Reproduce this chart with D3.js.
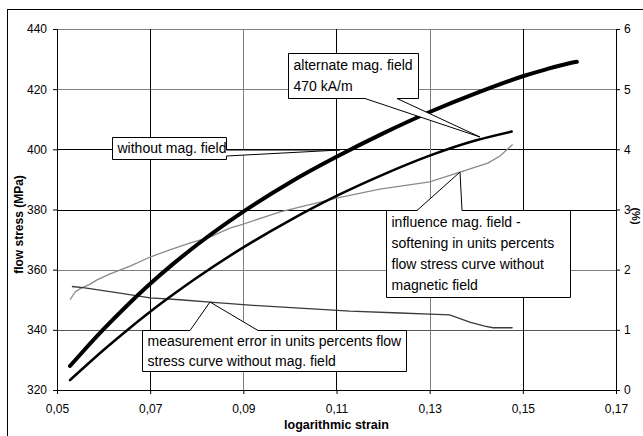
<html>
<head>
<meta charset="utf-8">
<script src="https://d3js.org/d3.v7.min.js"></script>
<style>
  body { margin: 0; background: #fff; }
  text { font-family: Arial, "Liberation Sans", sans-serif; }
</style>
</head>
<body>
<div id="chart"></div>
<script>
// x ticks and tick labels
const strainTicks = [0.05, 0.07, 0.09, 0.11, 0.13, 0.15, 0.17];
const stressTicks = [320, 340, 360, 380, 400, 420, 440];
const percentTicks = [0, 1, 2, 3, 4, 5, 6];

// flow stress curve without magnetic field (thick)
const strainWithout = [0.0528, 0.055, 0.06, 0.065, 0.07, 0.075, 0.08, 0.09, 0.10, 0.11, 0.12, 0.13, 0.14, 0.15, 0.155, 0.16, 0.1616];
const stressWithout = [328, 331.8, 340.2, 348.0, 355.3, 362.0, 368.2, 379.3, 389.0, 397.5, 405.3, 412.4, 418.7, 424.3, 426.6, 428.6, 429.1];

// flow stress curve with alternate field 470 kA/m
const strainAlt = [0.0528, 0.055, 0.06, 0.065, 0.07, 0.075, 0.08, 0.09, 0.10, 0.11, 0.12, 0.13, 0.14, 0.1476];
const stressAlt = [323.3, 326.4, 333.3, 339.8, 346.0, 351.8, 357.3, 367.4, 376.4, 384.5, 391.6, 397.9, 403.0, 405.9];

// softening in % (right axis)
const strainSoft = [0.0528, 0.0539, 0.0549, 0.0571, 0.0586, 0.0614, 0.0657, 0.07, 0.0742, 0.0785, 0.0828, 0.0871, 0.0893, 0.0979, 0.11, 0.1193, 0.13, 0.1365, 0.1425, 0.1451, 0.1478];
const softening = [1.50, 1.63, 1.68, 1.76, 1.83, 1.93, 2.06, 2.21, 2.33, 2.44, 2.54, 2.69, 2.74, 2.96, 3.19, 3.34, 3.46, 3.62, 3.77, 3.89, 4.08];

// measurement error in % (right axis)
const strainErr = [0.0532, 0.0556, 0.0592, 0.0635, 0.07, 0.0764, 0.0828, 0.0914, 0.1021, 0.1129, 0.1236, 0.13, 0.1343, 0.1386, 0.1418, 0.1436, 0.1478];
const measError = [1.72, 1.70, 1.66, 1.61, 1.53, 1.50, 1.46, 1.41, 1.36, 1.31, 1.28, 1.26, 1.25, 1.13, 1.06, 1.035, 1.035];

const W = 643, H = 436;
const margin = {top: 29, right: 27, bottom: 46, left: 57};
const width = W - margin.left - margin.right;
const height = H - margin.top - margin.bottom;

const svg = d3.select("#chart").append("svg")
  .attr("width", W).attr("height", H);

// chart frame (runs off the picture at right and bottom)
svg.append("rect")
  .attr("x", 7.5).attr("y", 9.5).attr("width", 650).attr("height", 440)
  .attr("fill", "#fff").attr("stroke", "#000").attr("stroke-width", 1);

const g = svg.append("g").attr("transform", `translate(${margin.left},${margin.top})`);

const x = d3.scaleLinear().domain([0.05, 0.17]).range([0, width]);
const y = d3.scaleLinear().domain([320, 440]).range([height, 0]);
const y2 = d3.scaleLinear().domain([0, 6]).range([height, 0]);

const fmt = d => d3.format(".2f")(d).replace(".", ",");

// gridlines
const hGridColor = {440: "#808080", 420: "#808080", 400: "#000", 380: "#000", 360: "#808080", 340: "#555"};
g.selectAll(".hgrid").data(stressTicks.filter(d => d > 320)).join("line")
  .attr("x1", 0).attr("x2", width)
  .attr("y1", d => Math.round(y(d)) + 0.5).attr("y2", d => Math.round(y(d)) + 0.5)
  .attr("stroke", d => hGridColor[d]).attr("stroke-width", 1);
const vGridColor = ["#000", "#808080", "#000", "#808080", "#000"];
g.selectAll(".vgrid").data(strainTicks.slice(1, 6)).join("line")
  .attr("x1", d => Math.round(x(d)) + 0.5).attr("x2", d => Math.round(x(d)) + 0.5)
  .attr("y1", 0).attr("y2", height)
  .attr("stroke", (d, i) => vGridColor[i]).attr("stroke-width", 1);

// axes
const xAxis = g.append("g").attr("transform", `translate(0,${height})`)
  .call(d3.axisBottom(x).tickValues(strainTicks).tickFormat(fmt).tickSizeOuter(0).tickSize(4).tickPadding(10));
const yAxis = g.append("g")
  .call(d3.axisLeft(y).tickValues(stressTicks).tickSizeOuter(0).tickSize(4).tickPadding(6));
const y2Axis = g.append("g").attr("transform", `translate(${width},0)`)
  .call(d3.axisRight(y2).tickValues(percentTicks).tickFormat(d3.format("d")).tickSizeOuter(0).tickSize(4).tickPadding(4));
[xAxis, yAxis, y2Axis].forEach(a => {
  a.selectAll("text").attr("font-size", 12).attr("font-family", "Arial, 'Liberation Sans', sans-serif").attr("fill", "#000");
  a.selectAll("line,path").attr("stroke", "#000");
});

// axis titles
svg.append("text").attr("x", margin.left + width / 2).attr("y", 429)
  .attr("text-anchor", "middle").attr("font-size", 12.5).attr("font-weight", "bold")
  .text("logarithmic strain");
svg.append("text").attr("transform", `translate(23,${margin.top + height / 2 + 15}) rotate(-90)`)
  .attr("text-anchor", "middle").attr("font-size", 12).attr("font-weight", "bold")
  .text("flow stress (MPa)");
svg.append("text").attr("transform", `translate(632,216) rotate(90)`)
  .attr("text-anchor", "middle").attr("font-size", 11).attr("font-weight", "bold")
  .text("(%)");

// curves
const lineL = d3.line().x(d => x(d[0])).y(d => y(d[1])).curve(d3.curveMonotoneX);
const lineR = d3.line().x(d => x(d[0])).y(d => y2(d[1]));

g.append("path").datum(d3.zip(strainSoft, softening)).attr("d", lineR)
  .attr("fill", "none").attr("stroke", "#8a8a8a").attr("stroke-width", 1.3);
g.append("path").datum(d3.zip(strainErr, measError)).attr("d", lineR)
  .attr("fill", "none").attr("stroke", "#3a3a3a").attr("stroke-width", 1.3);
g.append("path").datum(d3.zip(strainAlt, stressAlt)).attr("d", lineL)
  .attr("fill", "none").attr("stroke", "#000").attr("stroke-width", 2.5).attr("stroke-linecap", "round");
g.append("path").datum(d3.zip(strainWithout, stressWithout)).attr("d", lineL)
  .attr("fill", "none").attr("stroke", "#000").attr("stroke-width", 4).attr("stroke-linecap", "round");

// callout boxes: box corners, wedge side, wedge base and tip (all in pixels)
function callout(box, side, b1, b2, tip, lines, lineY) {
  const [x0, y0, x1, y1] = box;
  let pts;
  if (side === "top") pts = [[x0, y0], [b1, y0], tip, [b2, y0], [x1, y0], [x1, y1], [x0, y1]];
  else if (side === "bottom") pts = [[x0, y0], [x1, y0], [x1, y1], [b2, y1], tip, [b1, y1], [x0, y1]];
  else pts = [[x0, y0], [x1, y0], [x1, b1], tip, [x1, b2], [x1, y1], [x0, y1]];
  svg.append("path").attr("d", "M" + pts.map(p => p.join(",")).join("L") + "Z")
    .attr("fill", "#fff").attr("stroke", "#000").attr("stroke-width", 1);
  lines.forEach((t, i) => {
    svg.append("text").attr("x", x0 + 5).attr("y", lineY[i]).attr("font-size", 14).text(t);
  });
}

callout([288.5, 53.5, 418.5, 98.5], "bottom", 365, 397, [480, 137],
  ["alternate mag. field", "470 kA/m"], [70, 91]);
callout([112.5, 137.5, 226.5, 159.5], "right", 150, 156, [340, 150],
  ["without mag. field"], [153]);
callout([386.5, 210.5, 570.5, 297.5], "top", 417, 462, [460, 172],
  ["influence mag. field -", "softening in units percents", "flow stress curve without", "magnetic field"], [227, 248, 269, 290]);
callout([142.5, 330.5, 406.5, 371.5], "top", 190, 258, [210, 302],
  ["measurement error in units percents flow", "stress curve without mag. field"], [346, 366]);
</script>
</body>
</html>
